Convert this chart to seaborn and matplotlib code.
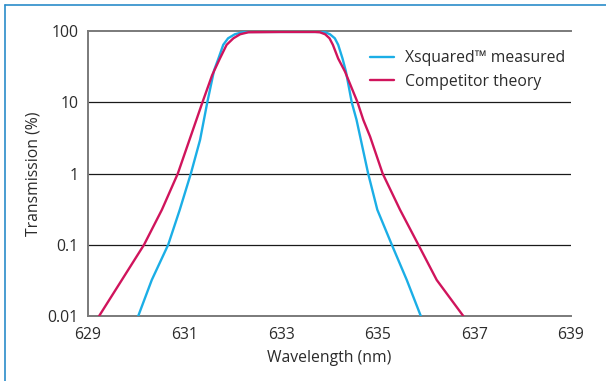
import matplotlib
matplotlib.use("Agg")
import matplotlib.pyplot as plt
from matplotlib.lines import Line2D
import seaborn as sns
import pandas as pd

# Transmission spectra (wavelength in nm, transmission in %)
xsq_wavelength = [630.04, 630.32, 630.66, 630.90, 631.13, 631.32, 631.47, 631.61,
                  631.70, 631.80, 631.90, 632.04, 632.20, 632.35, 633.00, 633.80,
                  633.91, 634.01, 634.11, 634.18, 634.27, 634.34, 634.46, 634.56,
                  634.80, 634.99, 635.29, 635.60, 635.89]
xsq_transmission = [0.01, 0.032, 0.1, 0.31, 1.0, 2.96, 10.0, 28.0,
                    41.0, 64.0, 79.0, 90.0, 96.0, 97.0, 97.0, 97.0,
                    96.0, 90.0, 79.0, 64.0, 41.0, 27.0, 10.0, 5.65,
                    1.0, 0.31, 0.1, 0.032, 0.01]

comp_wavelength = [629.23, 629.70, 630.16, 630.53, 630.86, 631.37, 631.57, 631.73,
                   631.87, 632.01, 632.15, 632.32, 633.00, 633.70, 633.80, 633.91,
                   634.00, 634.07, 634.18, 634.32, 634.58, 634.70, 634.84, 635.10,
                   635.46, 635.84, 636.22, 636.77]
comp_transmission = [0.01, 0.032, 0.1, 0.31, 1.0, 10.0, 24.0, 41.0,
                     64.0, 79.0, 90.0, 96.0, 97.0, 97.0, 96.0, 90.0,
                     79.0, 64.0, 41.0, 27.0, 10.0, 5.65, 3.3, 1.0,
                     0.31, 0.1, 0.032, 0.01]

series_names = ["Xsquared\u2122 measured", "Competitor theory"]
series_colors = ["#1BAEE6", "#D0145C"]

y_ticks = [0.01, 0.1, 1, 10, 100]
y_tick_labels = ["0.01", "0.1", "1", "10", "100"]
x_ticks = [629, 631, 633, 635, 637, 639]

df = pd.concat([
    pd.DataFrame({"wavelength": xsq_wavelength, "transmission": xsq_transmission,
                  "series": series_names[0]}),
    pd.DataFrame({"wavelength": comp_wavelength, "transmission": comp_transmission,
                  "series": series_names[1]}),
], ignore_index=True)

sns.set_theme(style="white")
plt.rcParams["font.family"] = ["Open Sans", "DejaVu Sans"]
text_color = "#2b2b2b"
fs = 11.3

fig = plt.figure(figsize=(6.06, 3.81), dpi=100)
ax = fig.add_axes([88 / 606, 1 - 316 / 381, (571 - 88) / 606, (316 - 31) / 381])

ax.set_yscale("log")
for yv in [0.1, 1, 10]:
    ax.axhline(yv, color="#1a1a1a", lw=0.9, zorder=1)

sns.lineplot(data=df, x="wavelength", y="transmission", hue="series",
             palette=dict(zip(series_names, series_colors)), sort=False,
             estimator=None, lw=1.7, ax=ax, legend=False, zorder=3)

ax.set_xlim(629, 639)
ax.set_ylim(0.01, 100)
ax.set_xticks(x_ticks)
ax.set_xticklabels([str(v) for v in x_ticks])
ax.set_yticks(y_ticks)
ax.set_yticklabels(y_tick_labels)
ax.minorticks_off()
ax.tick_params(axis="both", length=0, labelsize=fs, colors=text_color)
ax.tick_params(axis="x", pad=8)
ax.tick_params(axis="y", pad=7)

ax.set_xlabel("Wavelength (nm)", fontsize=fs, color=text_color, labelpad=5)
ax.set_ylabel("Transmission (%)", fontsize=fs, color=text_color, labelpad=4)

for side in ["left", "bottom", "top"]:
    ax.spines[side].set_color("#7a7a7a")
    ax.spines[side].set_linewidth(1.4)
ax.spines["right"].set_visible(False)

handles = [Line2D([0], [0], color=c, lw=1.7) for c in series_colors]
leg = ax.legend(handles, series_names, loc="upper right",
                bbox_to_anchor=(1.0, 0.955), frameon=False, fontsize=fs,
                handlelength=1.5, handletextpad=0.7, labelspacing=0.5,
                borderaxespad=0.0)
for t in leg.get_texts():
    t.set_color(text_color)

# Blue frame along the top and left edges
frame_color = "#2a8cca"
fig.add_artist(Line2D([5 / 606, 1.0], [1 - 5 / 381, 1 - 5 / 381],
                      transform=fig.transFigure, color=frame_color, lw=1.2))
fig.add_artist(Line2D([5 / 606, 5 / 606], [0.0, 1 - 5 / 381],
                      transform=fig.transFigure, color=frame_color, lw=1.2))

fig.savefig("out.png", dpi=100, facecolor="white")
